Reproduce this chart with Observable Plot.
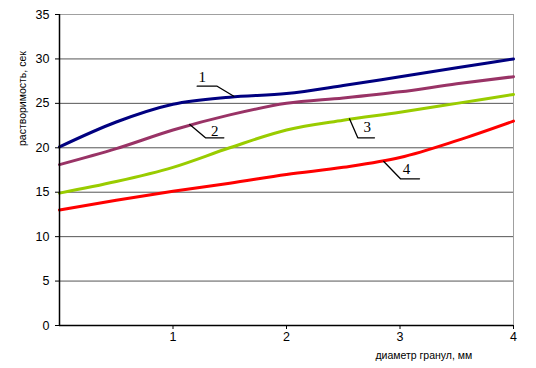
<!DOCTYPE html>
<html>
<head>
<meta charset="utf-8">
<script src="https://cdn.jsdelivr.net/npm/d3@7"></script>
<script src="https://cdn.jsdelivr.net/npm/@observablehq/plot@0.6"></script>
<style>
  html, body { margin: 0; padding: 0; background: #fff; }
  #chart svg { display: block; }
</style>
</head>
<body>
<div id="chart"></div>
<script>
const diameters = [0, 0.5, 1, 1.5, 2, 2.5, 3, 3.5, 4];
const series1 = [20.1, 22.9, 24.9, 25.7, 26.1, 27.0, 28.0, 29.0, 30.0];
const series2 = [18.1, 19.9, 22.0, 23.7, 25.0, 25.6, 26.3, 27.2, 28.0];
const series3 = [14.9, 16.2, 17.8, 20.0, 22.0, 23.1, 24.0, 25.0, 26.0];
const series4 = [13.0, 14.1, 15.1, 16.0, 17.0, 17.8, 18.9, 20.8, 23.0];
const seriesNames = ["1", "2", "3", "4"];
const seriesColors = ["#000080", "#993366", "#99cc00", "#ff0000"];
const yTicks = [0, 5, 10, 15, 20, 25, 30, 35];
const xTicks = [1, 2, 3, 4];
const gridValues = [5, 10, 15, 20, 25, 30];
const xLabel = "диаметр гранул, мм";
const yLabel = "растворимость, сек";

// callout labels (data units)
const calloutText = [
  {name: "1", x: 1.257, y: 27.9},
  {name: "2", x: 1.368, y: 21.9},
  {name: "3", x: 2.711, y: 22.3},
  {name: "4", x: 3.057, y: 17.6}
];
const calloutLines = [
  {name: "1", pts: [[1.213, 26.93], [1.389, 26.93], [1.536, 25.8]]},
  {name: "2", pts: [[1.148, 22.62], [1.286, 21.12], [1.448, 21.12]]},
  {name: "3", pts: [[2.555, 23.26], [2.628, 21.12], [2.775, 21.12]]},
  {name: "4", pts: [[2.857, 18.46], [3.004, 16.51], [3.172, 16.51]]}
];

const allSeries = [series1, series2, series3, series4];
const rows = [];
allSeries.forEach((s, i) => s.forEach((v, j) => rows.push({x: diameters[j], y: v, name: seriesNames[i]})));
const leaderRows = [];
calloutLines.forEach(c => c.pts.forEach(p => leaderRows.push({x: p[0], y: p[1], name: c.name})));

const chart = Plot.plot({
  width: 536,
  height: 368,
  marginLeft: 59,
  marginRight: 23,
  marginTop: 14,
  marginBottom: 43,
  style: {fontFamily: "Liberation Sans, Arial, sans-serif", background: "#fff"},
  x: {domain: [0, 4]},
  y: {domain: [0, 35]},
  color: {domain: seriesNames, range: seriesColors},
  marks: [
    Plot.ruleY(gridValues, {stroke: "#555", strokeWidth: 1}),
    Plot.ruleY([35], {stroke: "#a0a0a0", strokeWidth: 1}),
    Plot.ruleX([4], {stroke: "#a0a0a0", strokeWidth: 1}),
    Plot.line(rows, {x: "x", y: "y", z: "name", stroke: "name", strokeWidth: 3, curve: "monotone-x"}),
    Plot.line(leaderRows, {x: "x", y: "y", z: "name", stroke: "#000", strokeWidth: 1.3}),
    Plot.text(calloutText, {x: "x", y: "y", text: "name", fontFamily: "Liberation Serif, Times New Roman, serif", fontSize: 15, fill: "#000"}),
    Plot.axisY({ticks: yTicks, tickSize: 4, tickPadding: 6, fontSize: 12.5, label: null, stroke: "#000", tickFormat: d => String(d)}),
    Plot.axisX({ticks: xTicks, tickSize: 4, tickPadding: 3, fontSize: 12.5, label: null, stroke: "#000", tickFormat: d => String(d)}),
    Plot.ruleX([0], {stroke: "#000", strokeWidth: 1.5}),
    Plot.ruleY([0], {stroke: "#000", strokeWidth: 1.5}),
    Plot.text([xLabel], {frameAnchor: "bottom", x: 3.21, dy: 33, fontSize: 10.5, fill: "#000"}),
    Plot.text([yLabel], {frameAnchor: "left", y: 20.2, dx: -37, rotate: -90, fontSize: 10.5, fill: "#000"})
  ]
});
document.getElementById("chart").appendChild(chart);
</script>
</body>
</html>
